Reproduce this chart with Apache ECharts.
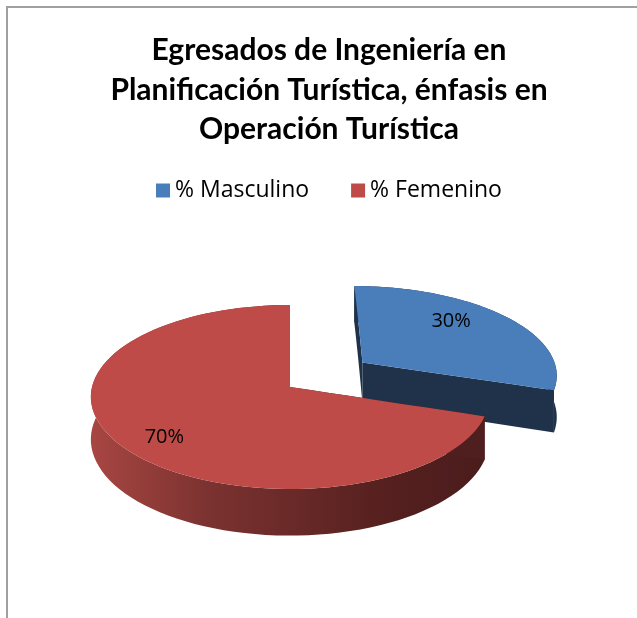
<!DOCTYPE html>
<html>
<head>
<meta charset="utf-8">
<script src="https://cdn.jsdelivr.net/npm/echarts@6/dist/echarts.min.js"></script>
<style>
  html, body { margin: 0; padding: 0; background: #fff; }
  #chart { width: 637px; height: 618px; }
</style>
</head>
<body>
<div id="chart"></div>
<script>
// datos del grafico
const categories = ['% Masculino', '% Femenino'];
const shares = [30, 70];
const titleText = 'Egresados de Ingeniería en\nPlanificación Turística, énfasis en\nOperación Turística';

const total = shares.reduce((a, b) => a + b, 0);

// aspecto del pastel 3D (estilo Excel)
const topColors = ['#4A7EBB', '#BE4B48'];
const sideStops = [
  [[0, '#1F3249'], [1, '#1F3249']],
  [[0, '#A84642'], [0.3, '#7B3230'], [0.75, '#55201F'], [1, '#4B1C1C']]
];
const radialColors = ['#1F3249', '#4F1E1E'];
const explode = [0.466, 0];
const labelOffset = [[-9, -8], [-12, 12]];
const CX = 290, CY = 387, RX = 198, RY = 92, K = 0.109, DEPTH = 42, LABEL_R = 0.68;

// u: derecha, v: hacia el observador, z: profundidad hacia abajo
function proj(u, v, z) {
  const s = 1 + K * v;
  return [CX + s * RX * u, CY + s * RY * v + s * z];
}

function makeRender(i) {
  return function (params, api) {
    const val = api.value(0);
    const before = shares.slice(0, i).reduce((a, b) => a + b, 0);
    const start = before / total * Math.PI * 2;
    const end = start + val / total * Math.PI * 2;
    const mid = (start + end) / 2;
    const ou = explode[i] * Math.sin(mid);
    const ov = -explode[i] * Math.cos(mid);
    const P = (r, t, z) => proj(ou + r * Math.sin(t), ov - r * Math.cos(t), z);

    const N = 90;
    const arcTop = [], arcBot = [];
    for (let k = 0; k <= N; k++) {
      const t = start + (end - start) * k / N;
      arcTop.push(P(1, t, 0));
      arcBot.push(P(1, t, DEPTH));
    }
    const side = arcTop.concat(arcBot.slice().reverse());
    const xs = arcTop.map(p => p[0]);
    const minX = Math.min.apply(null, xs), maxX = Math.max.apply(null, xs);

    const radial = (t) => {
      const pts = [];
      for (let j = 0; j <= 10; j++) pts.push(P(j / 10, t, 0));
      for (let j = 10; j >= 0; j--) pts.push(P(j / 10, t, DEPTH));
      return pts;
    };

    const top = [];
    for (let j = 0; j <= 10; j++) top.push(P(j / 10, start, 0));
    top.push.apply(top, arcTop);
    for (let j = 10; j >= 0; j--) top.push(P(j / 10, end, 0));

    const lp = P(LABEL_R, mid, 0);

    return {
      type: 'group',
      children: [
        {
          type: 'polygon',
          shape: { points: side },
          style: {
            fill: {
              type: 'linear', x: minX, y: 0, x2: maxX, y2: 0, global: true,
              colorStops: sideStops[i].map(s => ({ offset: s[0], color: s[1] }))
            }
          }
        },
        { type: 'polygon', shape: { points: radial(start) }, style: { fill: radialColors[i] } },
        { type: 'polygon', shape: { points: radial(end) }, style: { fill: radialColors[i] } },
        { type: 'polygon', shape: { points: top }, style: { fill: topColors[i] } },
        {
          type: 'text',
          style: {
            text: val + '%',
            x: lp[0] + labelOffset[i][0],
            y: lp[1] + labelOffset[i][1],
            align: 'center',
            verticalAlign: 'middle',
            fill: '#000',
            font: '20px "Open Sans"'
          }
        }
      ]
    };
  };
}

const chart = echarts.init(document.getElementById('chart'));
chart.setOption({
  animation: false,
  title: {
    text: titleText,
    left: 324,
    textAlign: 'center',
    top: 26,
    textStyle: {
      fontFamily: 'Lato',
      fontWeight: 'bold',
      fontSize: 30,
      lineHeight: 39.5,
      color: '#000'
    }
  },
  legend: {
    data: categories,
    top: 174,
    left: 151,
    icon: 'rect',
    itemWidth: 14,
    itemHeight: 14,
    itemGap: 42,
    textStyle: { fontFamily: 'Open Sans', fontSize: 23, color: '#000' }
  },
  graphic: [{
    type: 'rect',
    shape: { x: 7, y: 7, width: 700, height: 700 },
    style: { fill: 'none', stroke: '#a0a0a0', lineWidth: 2 },
    silent: true
  }],
  series: categories.map((name, i) => ({
    type: 'custom',
    name: name,
    coordinateSystem: 'none',
    itemStyle: { color: topColors[i] },
    data: [[shares[i]]],
    renderItem: makeRender(i)
  }))
});
</script>
</body>
</html>
